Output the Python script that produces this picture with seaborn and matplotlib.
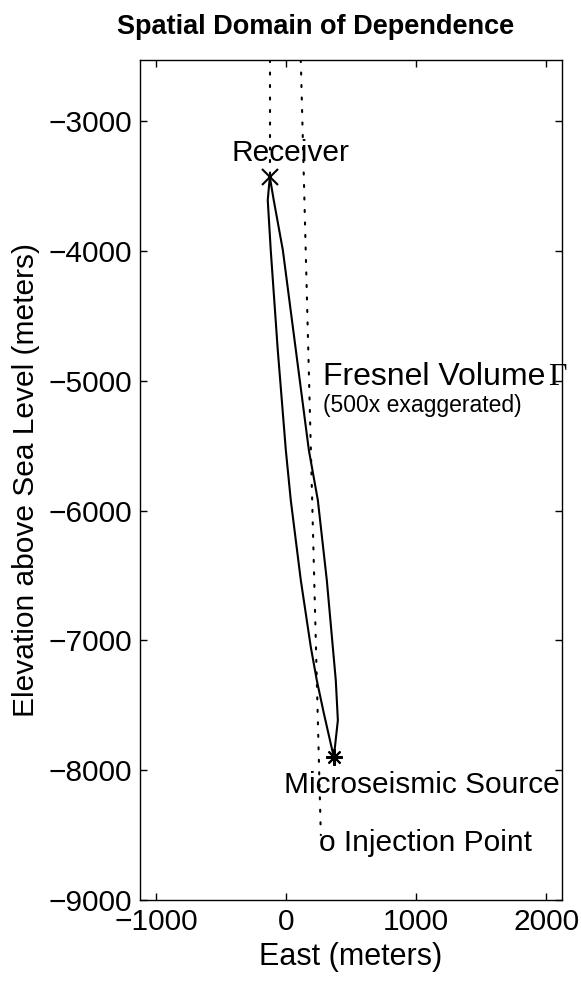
import numpy as np
import matplotlib
matplotlib.use("Agg")
import matplotlib.pyplot as plt
import pandas as pd
import seaborn as sns

# pontos (east, elevation em metros)
receiver = (-125, -3431)
source = (367, -7900)

left_east = [-125, -141, -118, -64, -2, 36, 113, 190, 236, 290, 367]
left_elev = [-3431, -3609, -3994, -4764, -5535, -5920, -6536, -7052, -7307, -7561, -7900]
right_east = [-125, -95, -25, 75, 175, 244, 313, 382, 398, 367]
right_elev = [-3431, -3609, -3994, -4764, -5535, -5920, -6536, -7307, -7615, -7900]

# pocos (linhas pontilhadas)
recv_well_east = [-125, -125]
recv_well_elev = [-2530, -3431]
inj_well_east = [113, 267]
inj_well_elev = [-2530, -8500]

xticks = [-1000, 0, 1000, 2000]
yticks = [-9000, -8000, -7000, -6000, -5000, -4000, -3000]

sns.set_theme(style="ticks")
plt.rcParams["font.family"] = ["Liberation Sans", "DejaVu Sans"]
plt.rcParams["text.color"] = "black"
plt.rcParams["axes.labelcolor"] = "black"

fig = plt.figure(figsize=(5.81, 9.81), dpi=100)
ax = fig.add_axes([140 / 581, 81 / 981, 422 / 581, 840 / 981])

# volume de Fresnel: lado esquerdo e depois o direito de volta
fresnel = pd.DataFrame({
    "east": left_east + right_east[::-1],
    "elev": left_elev + right_elev[::-1],
})
sns.lineplot(data=fresnel, x="east", y="elev", sort=False, estimator=None,
             color="black", linewidth=1.5, ax=ax)

dots = (0, (1, 5))
ax.plot(recv_well_east, recv_well_elev, color="black", linewidth=1.5,
        linestyle=dots, dash_capstyle="round")
ax.plot(inj_well_east, inj_well_elev, color="black", linewidth=1.5,
        linestyle=dots, dash_capstyle="round")

ax.plot([receiver[0]], [receiver[1]], marker="x", markersize=11,
        markeredgewidth=1.5, color="black", linestyle="none")
ax.plot([source[0]], [source[1]], marker=(8, 2, 0), markersize=12,
        markeredgewidth=1.5, color="black", linestyle="none")

fs = 21.5
ax.text(36, -3247, "Receiver", fontsize=fs, ha="center", va="center")
ax.text(282, -4975, "Fresnel Volume", fontsize=23, ha="left", va="center")
ax.text(2013, -4975, "Γ", fontsize=23, ha="left", va="center",
        family=["Liberation Serif", "DejaVu Serif"])
ax.text(282, -5190, "(500x exaggerated)", fontsize=16.5, ha="left", va="center")
ax.text(-18, -8116, "Microseismic Source", fontsize=fs, ha="left", va="center")
ax.text(251, -8562, "o Injection Point", fontsize=fs, ha="left", va="center")

ax.set_xlim(-1123, 2121)
ax.set_ylim(-9000, -2530)
ax.set_xticks(xticks)
ax.set_yticks(yticks)
ax.set_xticklabels([f"{t:d}".replace("-", "\u2212") for t in xticks])
ax.set_yticklabels([f"{t:d}".replace("-", "\u2212") for t in yticks])
ax.tick_params(direction="in", length=5, width=1.0, top=True, right=True,
               labelsize=fs, pad=6, colors="black")
for s in ax.spines.values():
    s.set_visible(True)
    s.set_linewidth(1.0)
    s.set_color("black")

ax.set_xlabel("East (meters)", fontsize=22, labelpad=4)
ax.set_ylabel("Elevation above Sea Level (meters)", fontsize=fs, labelpad=6)

fig.text(316 / 581, 1 - 27 / 981, "Spatial Domain of Dependence",
         fontsize=19.5, fontweight="bold", ha="center", va="center")

fig.savefig("out.png", dpi=100, facecolor="white")
